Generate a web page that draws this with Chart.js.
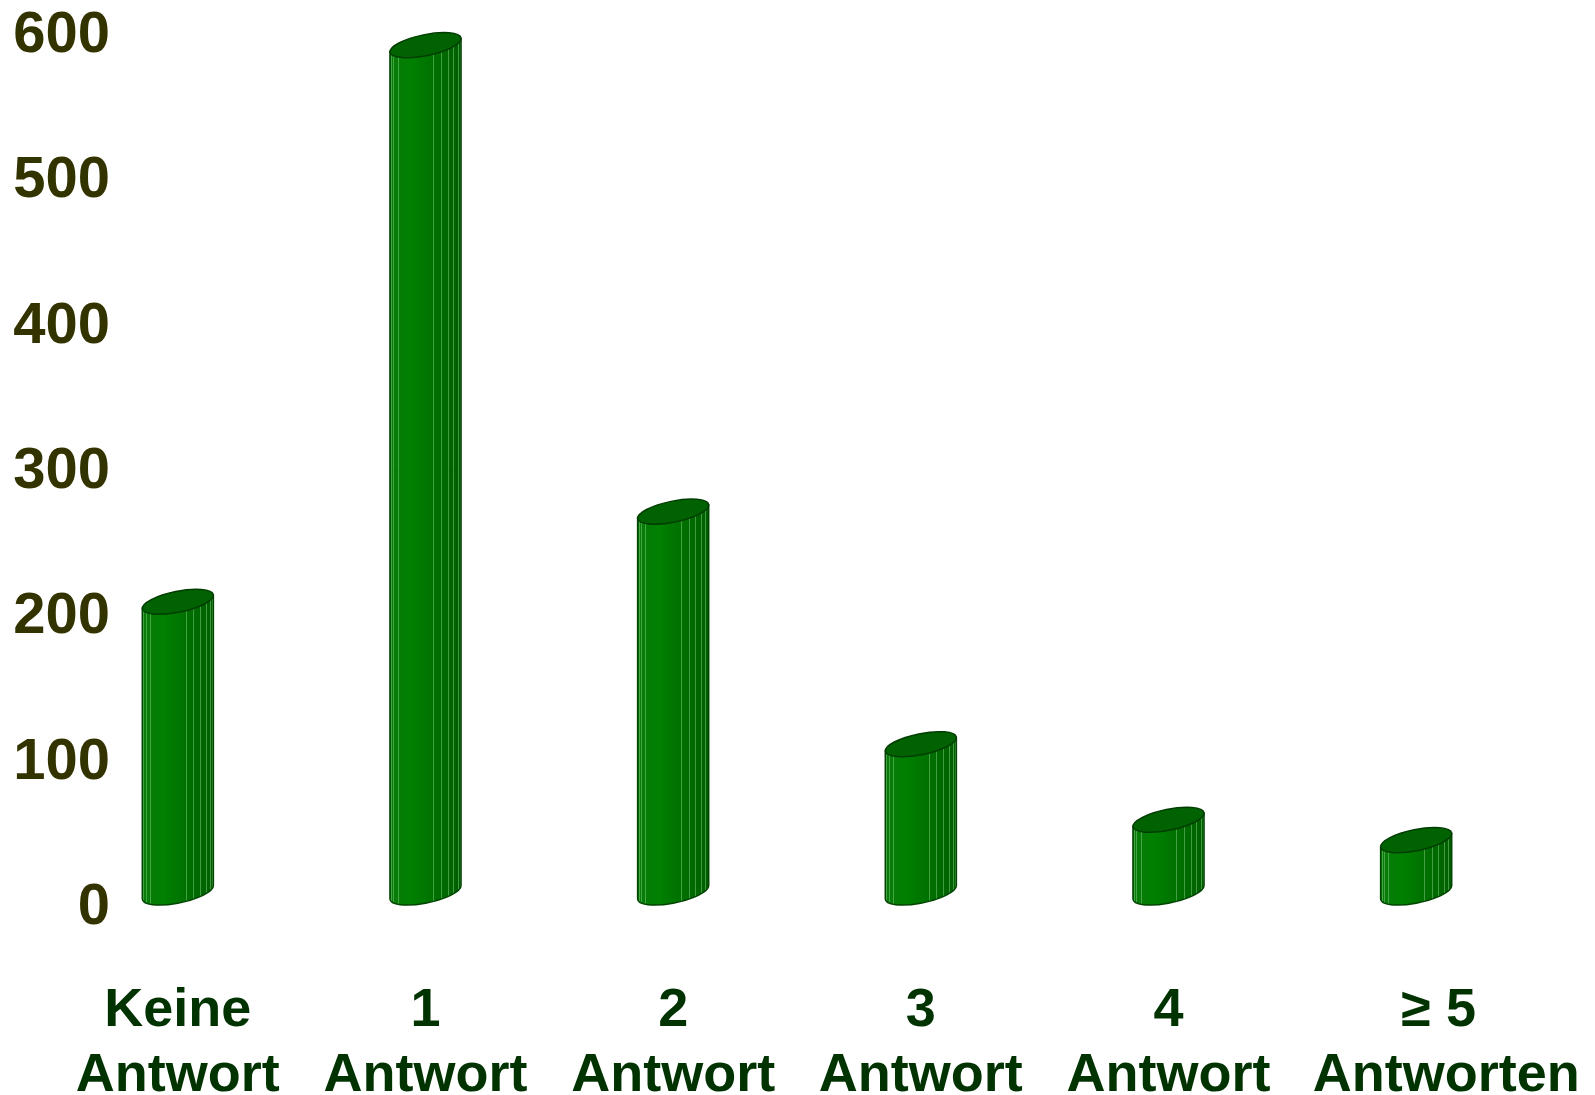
<!DOCTYPE html>
<html><head><meta charset="utf-8">
<script src="https://cdn.jsdelivr.net/npm/chart.js@4/dist/chart.umd.min.js"></script>
<style>html,body{margin:0;padding:0;background:#fff}#wrap{width:1595px;height:1095px}</style>
</head><body><div id="wrap"><canvas id="c"></canvas></div>
<script>
const categories = [["Keine","Antwort"],["1","Antwort"],["2","Antwort"],["3","Antwort"],["4","Antwort"],["\u00a0\u00a0\u00a0\u2265 5","\u00a0\u00a0\u00a0\u00a0Antworten"]];
const values = [200, 583, 262, 102, 50, 36];
const yTicks = [0, 100, 200, 300, 400, 500, 600];

const cylinderPlugin = {
  id: 'cyl',
  afterDatasetsDraw(chart) {
    const ctx = chart.ctx;
    const meta = chart.getDatasetMeta(0);
    const rot = -0.2;
    const ry = 10.5;
    meta.data.forEach(el => {
      const hw = el.width / 2;
      const cos = Math.cos(rot), sin = Math.sin(rot);
      const rx = Math.sqrt((hw*hw - ry*ry*sin*sin) / (cos*cos));
      const hy = Math.sqrt(rx*rx*sin*sin + ry*ry*cos*cos);
      const cx = el.x;
      const topC = el.y - hy;
      const botC = el.base - hy;
      const t0 = Math.atan2(-ry*sin, rx*cos);
      const px = t => cx + rx*Math.cos(t)*cos - ry*Math.sin(t)*sin;
      const py = (t, c) => c + rx*Math.cos(t)*sin + ry*Math.sin(t)*cos;
      const lx = px(t0 + Math.PI), rxp = px(t0);
      const bodyPath = () => {
        ctx.beginPath();
        ctx.moveTo(lx, py(t0 + Math.PI, topC));
        ctx.lineTo(lx, py(t0 + Math.PI, botC));
        ctx.ellipse(cx, botC, rx, ry, rot, t0 + Math.PI, t0, true);
        ctx.lineTo(rxp, py(t0, topC));
        ctx.closePath();
      };
      ctx.save();
      bodyPath();
      const g = ctx.createLinearGradient(lx, 0, rxp, 0);
      g.addColorStop(0, '#0a7a0a');
      g.addColorStop(0.3, '#008000');
      g.addColorStop(0.55, '#007400');
      g.addColorStop(1, '#005e00');
      ctx.fillStyle = g;
      ctx.fill();
      ctx.save();
      ctx.clip();
      ctx.strokeStyle = 'rgba(120,200,120,0.55)';
      ctx.lineWidth = 1;
      const N = 14;
      for (let k = 1; k < N; k++) {
        if (k >= 4 && k <= 7) continue;
        const x = cx - hw * Math.cos(k * Math.PI / N);
        ctx.beginPath();
        ctx.moveTo(Math.round(x) + 0.5, topC - 20);
        ctx.lineTo(Math.round(x) + 0.5, botC + 30);
        ctx.stroke();
      }
      ctx.restore();
      bodyPath();
      ctx.strokeStyle = '#004400';
      ctx.lineWidth = 1.5;
      ctx.stroke();
      ctx.beginPath();
      ctx.ellipse(cx, topC, rx, ry, rot, 0, Math.PI * 2);
      ctx.fillStyle = '#006200';
      ctx.fill();
      ctx.strokeStyle = '#003d00';
      ctx.lineWidth = 1.5;
      ctx.stroke();
      ctx.restore();
    });
  }
};

new Chart(document.getElementById('c'), {
  type: 'bar',
  data: {
    labels: categories,
    datasets: [{
      data: values,
      backgroundColor: 'rgba(0,0,0,0)',
      borderWidth: 0,
      barPercentage: 0.287,
      categoryPercentage: 1.0
    }]
  },
  options: {
    responsive: true,
    maintainAspectRatio: false,
    animation: false,
    layout: { padding: { top: 33, right: 55, left: 0, bottom: 0 } },
    plugins: { legend: { display: false }, tooltip: { enabled: false } },
    scales: {
      x: {
        grid: { display: false },
        border: { display: false },
        afterFit: s => { s.height = 190; s.paddingLeft = 0; s.paddingRight = 0; },
        ticks: {
          padding: 66,
          maxRotation: 0,
          autoSkip: false,
          color: '#003300',
          font: { family: 'Liberation Sans, Arial, sans-serif', size: 54, weight: 'bold', lineHeight: 1.2 }
        }
      },
      y: {
        min: 0, max: 600,
        grid: { display: false },
        border: { display: false },
        afterFit: s => { s.width = 54; s._computeLabelArea = () => undefined; },
        afterBuildTicks: s => { s.ticks = yTicks.map(v => ({ value: v })); },
        ticks: {
          padding: -64,
          labelOffset: 3,
          color: '#333300',
          font: { family: 'Liberation Sans, Arial, sans-serif', size: 58, weight: 'bold' }
        }
      }
    }
  },
  plugins: [cylinderPlugin]
});
</script>
</body></html>
